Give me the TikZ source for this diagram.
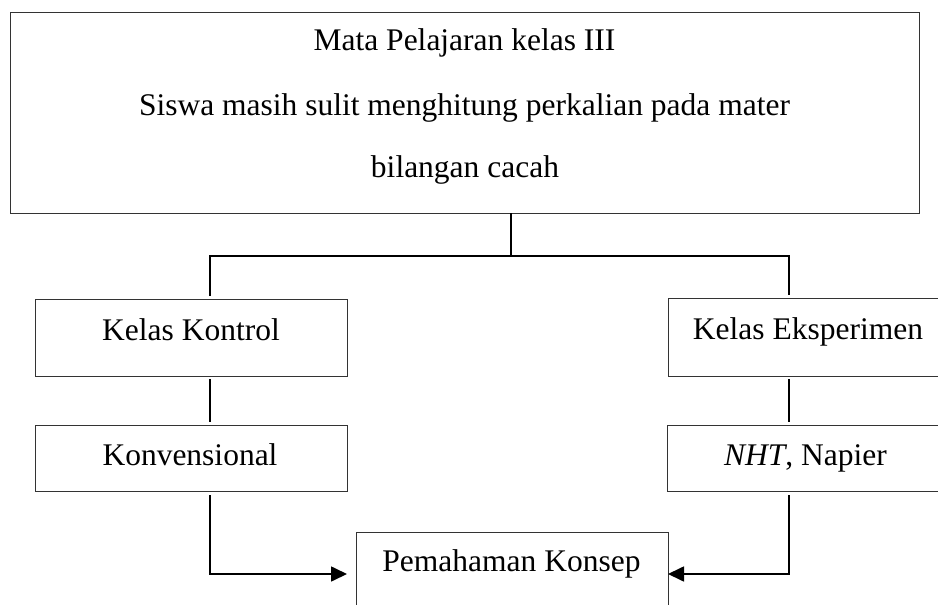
\documentclass[tikz,border=0pt]{standalone}
\usepackage{fontspec}
\setmainfont{Liberation Serif}
\usetikzlibrary{arrows.meta}
\begin{document}
\begin{tikzpicture}[x=1pt,y=-1pt,
  box/.style={draw=black!80, line width=1pt, rectangle, inner sep=0pt, outer sep=0pt},
  txt/.style={anchor=base, inner sep=0pt, font=\fontsize{31.5}{38}\selectfont},
  conn/.style={draw=black, line width=1.7pt},
  arr/.style={conn, -{Triangle[length=16pt,width=15pt]}}]
\useasboundingbox (0,0) rectangle (938,605);
\clip (0,0) rectangle (938,605);
% boxes
\node[box, minimum width=909pt, minimum height=201pt] (top) at (464.5,112.5) {};
\node[box, minimum width=312pt, minimum height=77pt] (kk) at (191,337.5) {};
\node[box, minimum width=312pt, minimum height=66pt] (kv) at (191,458) {};
\node[box, minimum width=278pt, minimum height=78pt] (ke) at (807,337) {};
\node[box, minimum width=279pt, minimum height=66pt] (nht) at (806.5,458) {};
\node[box, minimum width=312pt, minimum height=88pt] (pk) at (512,576) {};
% texts
\node[txt] (t1) at (464.5,50) {Mata Pelajaran kelas III};
\node[txt] (t2) at (464.5,115) {Siswa masih sulit menghitung perkalian pada mater};
\node[txt] (t3) at (465,177) {bilangan cacah};
\node[txt] (kkt) at (191,340) {Kelas Kontrol};
\node[txt] (kvt) at (190,465) {Konvensional};
\node[txt] (ket) at (808,339) {Kelas Eksperimen};
\node[txt] (nhtt) at (805.5,465) {\textit{NHT}, Napier};
\node[txt] (pkt) at (511.5,571) {Pemahaman Konsep};
% connectors
\coordinate (j) at (511,256);
\coordinate (lx) at (210,0);
\coordinate (rx) at (789,0);
\coordinate (ay) at (0,574);
\draw[conn] (top.south -| j) -- (j);
\draw[conn, shorten <=3pt, shorten >=3pt] (lx |- kk.north) -- (lx |- j) -- (rx |- j) -- (rx |- ke.north);
\draw[conn, shorten <=3pt, shorten >=3pt] (kk.south -| lx) -- (kv.north -| lx);
\draw[conn, shorten <=3pt, shorten >=3pt] (ke.south -| rx) -- (nht.north -| rx);
\draw[arr, shorten <=4pt, shorten >=9pt] (kv.south -| lx) |- (pk.west |- ay);
\draw[arr, shorten <=4pt] (nht.south -| rx) |- (pk.east |- ay);
\end{tikzpicture}
\end{document}
